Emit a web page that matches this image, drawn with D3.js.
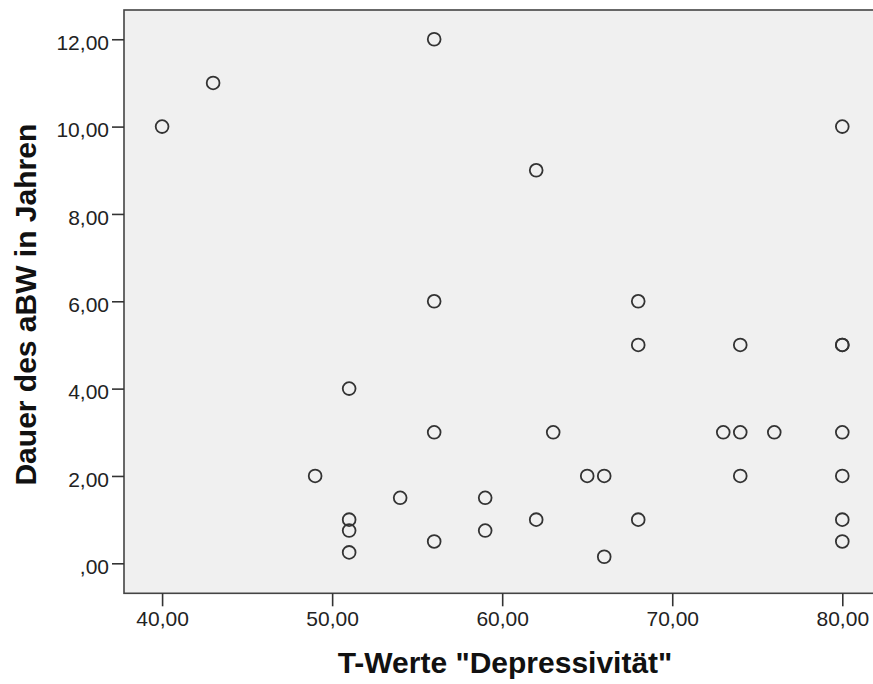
<!DOCTYPE html>
<html>
<head>
<meta charset="utf-8">
<script src="https://cdn.jsdelivr.net/npm/d3@7"></script>
<style>
  body { margin: 0; background: #ffffff; }
  svg { display: block; }
  .tick text { font-family: "Liberation Sans", Arial, sans-serif; font-size: 21px; fill: #222; }
  .axis-title { font-family: "Liberation Sans", Arial, sans-serif; font-size: 30px; font-weight: bold; fill: #111; }
</style>
</head>
<body>
<script>
// T-Werte "Depressivitaet" (x) against Dauer des aBW in Jahren (y)
var tWerte = [40, 43, 49, 51, 51, 51, 51, 54, 56, 56, 56, 56, 59, 59, 62, 62, 63, 65, 66, 66,
              68, 68, 68, 73, 74, 74, 74, 76, 80, 80, 80, 80, 80, 80, 80];
var dauer  = [10, 11, 2, 4, 1, 0.75, 0.25, 1.5, 12, 6, 3, 0.5, 1.5, 0.75, 9, 1, 3, 2, 2, 0.15,
              6, 5, 1, 3, 5, 3, 2, 3, 10, 5, 5, 3, 2, 1, 0.5];

var xTicks = [40, 50, 60, 70, 80];
var yTicks = [0, 2, 4, 6, 8, 10, 12];

var xTitle = 'T-Werte "Depressivität"';
var yTitle = "Dauer des aBW in Jahren";

var width = 873, height = 684;

// frame of the plot area in pixels
var frame = { left: 124, right: 878, top: 10, bottom: 593.3 };

var x = d3.scaleLinear()
    .domain([37.76, 82.1])
    .range([frame.left, frame.right]);

var y = d3.scaleLinear()
    .domain([-0.687, 12.67])
    .range([frame.bottom, frame.top]);

// SPSS style german number: 2 decimals, comma, no leading zero for 0
function fmt(v) {
    var s = d3.format(".2f")(v).replace(".", ",");
    if (s.indexOf("0,") === 0) s = s.substring(1);
    return s;
}

var svg = d3.select("body").append("svg")
    .attr("width", width)
    .attr("height", height);

svg.append("rect")
    .attr("x", frame.left)
    .attr("y", frame.top)
    .attr("width", frame.right - frame.left)
    .attr("height", frame.bottom - frame.top)
    .attr("fill", "#f0f0f0")
    .attr("stroke", "#444")
    .attr("stroke-width", 1.6);

var xAxis = d3.axisBottom(x)
    .tickValues(xTicks)
    .tickSize(13)
    .tickSizeOuter(0)
    .tickPadding(5)
    .tickFormat(fmt);

var yAxis = d3.axisLeft(y)
    .tickValues(yTicks)
    .tickSize(12)
    .tickSizeOuter(0)
    .tickPadding(3)
    .tickFormat(fmt);

var gx = svg.append("g")
    .attr("transform", "translate(0," + frame.bottom + ")")
    .call(xAxis);
gx.select(".domain").remove();
gx.selectAll(".tick line").attr("stroke", "#333").attr("stroke-width", 1.6);

var gy = svg.append("g")
    .attr("transform", "translate(" + frame.left + ",0)")
    .call(yAxis);
gy.select(".domain").remove();
gy.selectAll(".tick line").attr("stroke", "#333").attr("stroke-width", 1.6);
gy.selectAll(".tick text").attr("dy", "0.48em");

// points
svg.append("g")
    .selectAll("circle")
    .data(tWerte)
    .enter().append("circle")
    .attr("cx", function(d) { return x(d); })
    .attr("cy", function(d, i) { return y(dauer[i]); })
    .attr("r", 6.4)
    .attr("fill", "none")
    .attr("stroke", "#333")
    .attr("stroke-width", 1.8);

svg.append("text")
    .attr("class", "axis-title")
    .attr("x", 505)
    .attr("y", 673)
    .attr("text-anchor", "middle")
    .text(xTitle);

svg.append("text")
    .attr("class", "axis-title")
    .attr("transform", "translate(36," + ((frame.top + frame.bottom) / 2 + 3) + ") rotate(-90)")
    .attr("text-anchor", "middle")
    .text(yTitle);
</script>
</body>
</html>
